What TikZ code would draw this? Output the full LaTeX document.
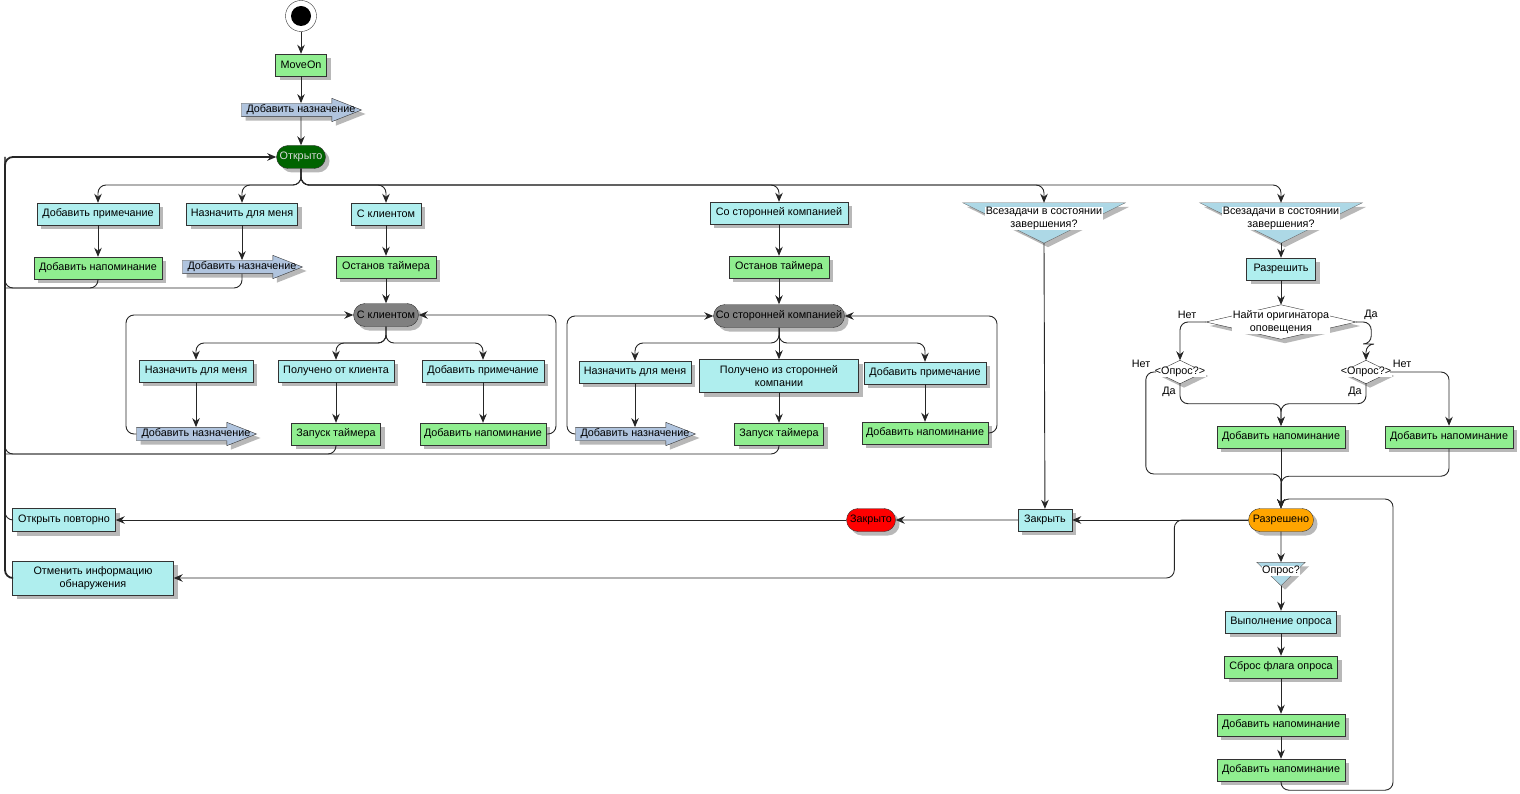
\documentclass[tikz,border=0pt]{standalone}
\usepackage{fontspec}
\setmainfont{Liberation Sans}
\usetikzlibrary{arrows.meta,shapes.misc,shapes.arrows,shadows}

\definecolor{paleblue}{HTML}{AFEEEE}
\definecolor{palegreen}{HTML}{90EE90}
\definecolor{steel}{HTML}{B0C4DE}
\definecolor{funnelblue}{HTML}{ADD8E6}
\definecolor{opengreen}{HTML}{006400}
\definecolor{doneorange}{HTML}{FFA500}

\begin{document}
\begin{tikzpicture}[x=1pt,y=-1pt,font=\fontsize{10.8}{12.5}\selectfont]
\tikzset{boxshadow/.style = {drop shadow={shadow xshift=4pt,shadow yshift=-4pt,fill=black!28,opacity=1}}}
\tikzset{act/.style = {shape=rectangle,draw=black!80,fill=paleblue,minimum height=22,inner sep=2,align=center,boxshadow}}
\tikzset{job/.style = {act,fill=palegreen}}
\tikzset{state/.style = {shape=rounded rectangle,draw=black!80,minimum height=23,inner xsep=2,boxshadow}}
\tikzset{assign/.style = {shape=single arrow,draw=black!80,fill=steel,minimum height=120,inner xsep=0,inner ysep=6.5,single arrow head extend=5,single arrow tip angle=43,boxshadow,xshift=-8pt,label={[xshift=8pt]center:Добавить назначение}}}
\tikzset{gate/.style = {shape=rectangle,inner sep=0}}
\tikzset{qtext/.style = {fill=white,inner sep=0.5,align=center}}
\tikzset{edge/.style = {-{Stealth[length=9pt,width=7.5pt]},black!85,line width=0.9,rounded corners=8}}
\tikzset{merge/.style = {black!85,line width=0.9,rounded corners=8}}
\useasboundingbox (0,0) rectangle (1520,794);

% start
\node[circle,draw=black!80,fill=white,minimum size=31] (start) at (301,16) {};
\fill[black] (start) circle[radius=10];
\node[job,minimum width=51] (moveon) at (301,65) {MoveOn};
\node[assign] (add) at (301,110) {};
\node[state,fill=opengreen,text=white!85!black,minimum width=53] (open) at (301,157) {Открыто};

% Открыто
\node[act,minimum width=122] (note) at (98,214) {Добавить примечание};
\node[job,minimum width=128] (remind) at (98,268) {Добавить напоминание};
\node[act,minimum width=111] (me) at (242,214) {Назначить для меня};
\node[assign] (meadd) at (242,267) {};
\node[act,minimum width=70] (client) at (386,214) {С клиентом};
\node[job,minimum width=100] (cstop) at (386,267) {Останов таймера};
\node[act,minimum width=138] (third) at (779,213) {Со сторонней компанией};
\node[job,minimum width=100] (tstop) at (779,267) {Останов таймера};

% С клиентом
\node[state,fill=gray,minimum width=69] (cwait) at (386,315) {С клиентом};
\node[act,minimum width=114] (cme) at (196,371) {Назначить для меня};
\node[act,minimum width=116] (cgot) at (336,371) {Получено от клиента};
\node[act,minimum width=122] (cnote) at (483,371) {Добавить примечание};
\node[assign] (cadd) at (196,434) {};
\node[job,minimum width=89] (cstart) at (336,434) {Запуск таймера};
\node[job,minimum width=126] (cremind) at (483,434) {Добавить напоминание};

% Со сторонней компанией
\node[state,fill=gray,minimum width=135] (twait) at (779,316) {Со сторонней компанией};
\node[act,minimum width=112] (tme) at (635,372) {Назначить для меня};
\node[act,minimum width=159,minimum height=33] (tgot) at (779,376) {Получено из сторонней\\компании};
\node[act,minimum width=122] (tnote) at (925,373) {Добавить примечание};
\node[assign] (tadd) at (635,434) {};
\node[job,minimum width=89] (tstart) at (779,434) {Запуск таймера};
\node[job,minimum width=126] (tremind) at (925,433) {Добавить напоминание};

% решения
\node[gate,minimum width=162,minimum height=40] (q1) at (1044,223) {};
\node[gate,minimum width=162,minimum height=40] (q2) at (1281,223) {};
\node[gate,minimum width=48,minimum height=23] (q3) at (1281,574) {};
\node[gate,minimum width=150,minimum height=34] (find) at (1281,322) {};
\node[gate,minimum width=48,minimum height=23] (o1) at (1180,372) {};
\node[gate,minimum width=48,minimum height=23] (o2) at (1366,372) {};
\foreach \q in {q1,q2,q3}
  \filldraw[fill=funnelblue,draw=black!60,boxshadow] (\q.north west) -- (\q.north east) -- (\q.south) -- cycle;
\foreach \d in {find,o1,o2}
  \filldraw[fill=white,draw=black!80,boxshadow] (\d.north) -- (\d.east) -- (\d.south) -- (\d.west) -- cycle;
\node[qtext,anchor=north] (q1t) at ([yshift=-4pt]q1.north) {Всезадачи в состоянии\\завершения?};
\node[qtext,anchor=north] (q2t) at ([yshift=-4pt]q2.north) {Всезадачи в состоянии\\завершения?};
\node[qtext,anchor=north] (q3t) at ([yshift=-3pt]q3.north) {Опрос?};
\node[qtext] (findt) at (find) {Найти оригинатора\\оповещения};
\node[qtext] (o1t) at (o1) {<Опрос?>};
\node[qtext] (o2t) at (o2) {<Опрос?>};

% Разрешить
\node[act,minimum width=69] (resolve) at (1281,269) {Разрешить};
\node[job,minimum width=128] (rmid) at (1281,437) {Добавить напоминание};
\node[job,minimum width=128] (rright) at (1449,437) {Добавить напоминание};
\node (no1) at (1187,315) {Нет};
\node (yes1) at (1371,315) {Да};
\node (no2) at (1141,364) {Нет};
\node (yes2) at (1169,392) {Да};
\node (no3) at (1402,364) {Нет};
\node (yes3) at (1355,392) {Да};

% Разрешено
\node[state,fill=doneorange,minimum width=69] (resolved) at (1281,520) {Разрешено};
\node[act,minimum width=54] (close) at (1045,520) {Закрыть};
\node[state,fill=red,text=black,minimum width=53] (closed) at (871,520) {Закрыто};
\node[act,minimum width=103,minimum height=23] (reopen) at (64,520) {Открыть повторно};
\node[act,minimum width=161,minimum height=34] (cancel) at (93,578) {Отменить информацию\\обнаружения};
\node[act,minimum width=111] (poll) at (1281,622) {Выполнение опроса};
\node[job,minimum width=113] (reset) at (1281,667) {Сброс флага опроса};
\node[job,minimum width=128] (rem1) at (1281,725) {Добавить напоминание};
\node[job,minimum width=128] (rem2) at (1281,770) {Добавить напоминание};

\draw[edge] (start) -- (moveon);
\draw[edge] (moveon) -- (moveon |- add.north);
\draw[edge] (open |- add.south) -- (open);
\coordinate (fork) at (301,185);
\foreach \n in {note,me,client,third,q1,q2}
  \draw[edge] (open.south) -- (fork) -| (\n);
\draw[edge] (note) -- (remind);
\draw[edge] (me) -- (me |- meadd.north);
\draw[edge] (client) -- (cstop);
\draw[edge] (cstop) -- (cwait);
\draw[edge] (third) -- (tstop);
\draw[edge] (tstop) -- (twait);

% back to Открыто
\coordinate (back) at (5,157);
\coordinate (low1) at (5,288);
\coordinate (low2) at (5,454);
\draw[edge,line width=1.8] (cancel.west) -| (back) -- (open);
\draw[merge] (reopen.west) -| (back);
\draw[merge] (remind) |- (low1) -- (back);
\draw[merge] (me |- meadd.south) |- (low1);
\draw[merge] (cstart) |- (low2) -- (back);
\draw[merge] (tstart) |- (low2);

% client loop
\coordinate (cfork) at (386,343);
\foreach \n in {cme,cgot,cnote}
  \draw[edge] (cwait.south) -- (cfork) -| (\n);
\draw[edge] (cme) -- (cme |- cadd.north);
\draw[edge] (cgot) -- (cstart);
\draw[edge] (cnote) -- (cremind);
\coordinate (cleft) at (126,315);
\coordinate (cright) at (556,315);
\draw[edge] (cadd.tail) -| (cleft) -- (cwait);
\draw[edge] (cremind.east) -| (cright) -- (cwait);

% third party loop
\coordinate (tfork) at (779,343);
\foreach \n in {tme,tgot,tnote}
  \draw[edge] (twait.south) -- (tfork) -| (\n);
\draw[edge] (tme) -- (tme |- tadd.north);
\draw[edge] (tgot) -- (tstart);
\draw[edge] (tnote) -- (tremind);
\coordinate (tleft) at (567,316);
\coordinate (tright) at (997,316);
\draw[edge] (tadd.tail) -| (tleft) -- (twait);
\draw[edge] (tremind.east) -| (tright) -- (twait);

% decisions
\draw[edge] (q1.south) -- (close);
\draw[edge] (q2.south) -- (resolve);
\draw[edge] (resolve) -- (find);
\draw[edge] (find.west) -| (o1.north);
\draw[edge] (find.east) -- ++(15,0) -- ++(0,22) -| (o2.north);
\draw[edge] (o1.south) -- ++(0,20) -| (rmid);
\draw[edge] (o2.south) -- ++(0,20) -| (rmid);
\draw[edge] (o2.east) -| (rright);
\draw[edge] (o1.west) -- ++(-10,0) -- ++(0,102) -| (resolved);
\draw[edge] (rmid) -- (resolved);
\draw[edge] (rright.south) -- ++(0,28) -| (resolved);

% Разрешено
\coordinate (rtop) at (1393,499);
\draw[edge] (rem2.south) -- ++(0,9) -| (rtop) -| (resolved);
\draw[edge] (resolved) -- (close);
\draw[edge] (close) -- (closed);
\draw[edge] (closed) -- (reopen);
\draw[edge] (resolved.west) -- ++(-74,0) |- (cancel);
\draw[edge] (resolved) -- (q3);
\draw[edge] (q3.south) -- (poll);
\draw[edge] (poll) -- (reset);
\draw[edge] (reset) -- (rem1);
\draw[edge] (rem1) -- (rem2);
\end{tikzpicture}
\end{document}
